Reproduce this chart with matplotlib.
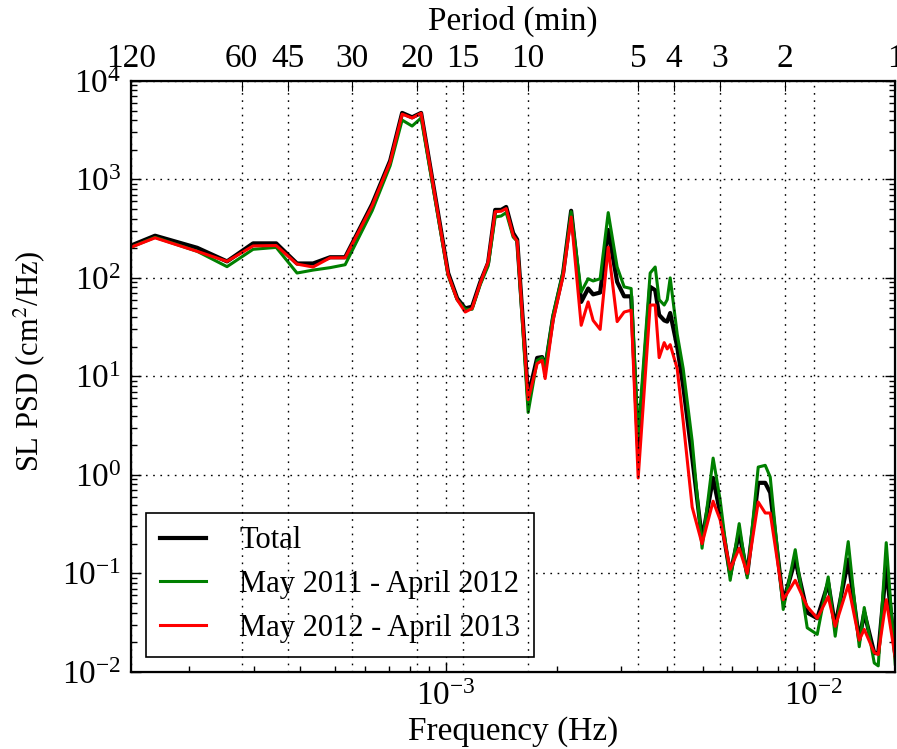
import numpy as np
import matplotlib
matplotlib.use('Agg')
import matplotlib.pyplot as plt
from matplotlib.ticker import FixedLocator, NullLocator, FixedFormatter

plt.rcParams['font.family'] = ['Liberation Serif', 'DejaVu Serif']
plt.rcParams['mathtext.fontset'] = 'stix'
plt.rcParams['font.size'] = 24

# frequency (Hz) and sea level PSD (cm^2/Hz)
freq = np.array([1.390e-4, 1.615e-4, 2.103e-4, 2.535e-4, 2.985e-4, 3.45e-4, 3.93e-4, 4.346e-4,
                 4.836e-4, 5.313e-4, 6.293e-4, 7.045e-4, 7.593e-4, 8.082e-4, 8.551e-4, 1.013e-3,
                 1.072e-3, 1.127e-3, 1.177e-3, 1.238e-3, 1.301e-3, 1.360e-3, 1.412e-3, 1.457e-3,
                 1.522e-3, 1.561e-3, 1.672e-3, 1.769e-3, 1.825e-3, 1.860e-3, 1.955e-3, 2.082e-3,
                 2.189e-3, 2.331e-3, 2.435e-3, 2.512e-3, 2.625e-3, 2.761e-3, 2.920e-3, 3.051e-3,
                 3.188e-3, 3.331e-3, 3.591e-3, 3.706e-3, 3.799e-3, 3.921e-3, 3.995e-3, 4.071e-3,
                 4.253e-3, 4.416e-3, 4.672e-3, 4.970e-3, 5.327e-3, 5.566e-3, 5.928e-3, 6.272e-3,
                 6.595e-3, 7.066e-3, 7.383e-3, 7.618e-3, 8.264e-3, 8.910e-3, 9.605e-3, 1.0226e-2,
                 1.0954e-2, 1.1444e-2, 1.2417e-2, 1.3305e-2, 1.3728e-2, 1.4616e-2, 1.4987e-2,
                 1.5756e-2, 1.6667e-2])

psd_total = np.array([213, 268, 202, 147, 224, 224, 140, 140,
                      162, 162, 560, 1550, 4730, 4270, 4730, 112,
                      62, 49, 51, 90, 142, 490, 490, 525,
                      285, 245, 6.2, 15.4, 15.7, 12, 40, 112,
                      480, 57, 78, 68, 71, 307, 91, 65,
                      65, 1.8, 81, 75, 42, 37, 36, 44,
                      20, 8, 1.5, 0.22, 0.93, 0.41, 0.097, 0.26,
                      0.097, 0.83, 0.83, 0.66, 0.051, 0.138, 0.04, 0.035,
                      0.08, 0.029, 0.138, 0.021, 0.04, 0.0155, 0.0155,
                      0.117, 0.015])

psd_2011 = np.array([205, 258, 186, 130, 195, 204, 112, 120,
                     127, 136, 480, 1380, 4000, 3480, 4200, 105,
                     60, 48, 48, 85, 132, 415, 425, 460,
                     260, 235, 4.3, 14.5, 15.5, 12.5, 42, 115,
                     470, 72, 98, 93, 98, 460, 129, 81,
                     78, 2.5, 112, 129, 60, 53, 60, 100,
                     27, 12, 2.2, 0.18, 1.48, 0.56, 0.085, 0.32,
                     0.09, 1.2, 1.25, 0.95, 0.043, 0.174, 0.028, 0.024,
                     0.092, 0.023, 0.21, 0.018, 0.045, 0.0123, 0.0115,
                     0.205, 0.012])

psd_2012 = np.array([205, 255, 186, 147, 211, 213, 138, 129,
                     160, 160, 540, 1500, 4600, 4200, 4700, 108,
                     60, 45, 49, 88, 145, 470, 475, 505,
                     270, 235, 5.8, 13.5, 14.5, 9.5, 37, 105,
                     415, 33, 57, 37, 30, 205, 36, 45,
                     47, 0.93, 53, 53, 15.5, 22, 19, 21,
                     12, 3.5, 0.47, 0.2, 0.54, 0.35, 0.11, 0.18,
                     0.1, 0.53, 0.41, 0.41, 0.054, 0.085, 0.046, 0.035,
                     0.058, 0.029, 0.076, 0.021, 0.027, 0.0157, 0.015,
                     0.054, 0.014])

period_min = [120, 60, 45, 30, 20, 15, 10, 5, 4, 3, 2, 1]

fig = plt.figure(figsize=(8.97, 7.49), dpi=100)
ax = fig.add_axes([0.146, 0.103, 0.852, 0.789])

ax.loglog(freq, psd_total, color='k', lw=3.0, label='Total')
ax.loglog(freq, psd_2011, color='g', lw=2.2, label='May 2011 - April 2012')
ax.loglog(freq, psd_2012, color='r', lw=2.2, label='May 2012 - April 2013')

xmin, xmax = 1.0 / (120 * 60), 1.0 / 60
ax.set_xlim(xmin, xmax)
ax.set_ylim(1e-2, 1e4)
ax.set_xlabel('Frequency (Hz)', labelpad=3)
ax.set_ylabel('SL PSD (cm$^2$/Hz)', fontsize=22)
ax.yaxis.set_label_coords(-0.11, 0.526)
ax.tick_params(which='both', direction='in', top=True, right=True, width=1.0)
ax.tick_params(which='major', length=7, pad=7)
ax.tick_params(which='minor', length=4)
ax.grid(True, which='major', color='k', linestyle=(0, (1.2, 4)), linewidth=1.0)
for s in ax.spines.values():
    s.set_linewidth(1.6)

# top axis: period in minutes
ax2 = ax.twiny()
ax2.set_xscale('log')
ax2.set_xlim(xmin, xmax)
ax2.xaxis.set_major_locator(FixedLocator([1.0 / (p * 60) for p in period_min]))
ax2.xaxis.set_major_formatter(FixedFormatter([str(p) for p in period_min]))
ax2.xaxis.set_minor_locator(NullLocator())
ax2.tick_params(which='major', direction='in', length=7, pad=5)
ax2.set_xlabel('Period (min)', labelpad=10)
ax2.grid(True, which='major', axis='x', color='k', linestyle=(0, (1.2, 4)), linewidth=1.0)

leg = ax.legend(loc='lower left', fancybox=False, edgecolor='k', framealpha=1.0,
                handlelength=1.5, handletextpad=1.1, labelspacing=0.48,
                borderpad=0.45, borderaxespad=0.5, fontsize=22)
leg.get_frame().set_linewidth(1.2)

fig.savefig('out.png', dpi=100)
